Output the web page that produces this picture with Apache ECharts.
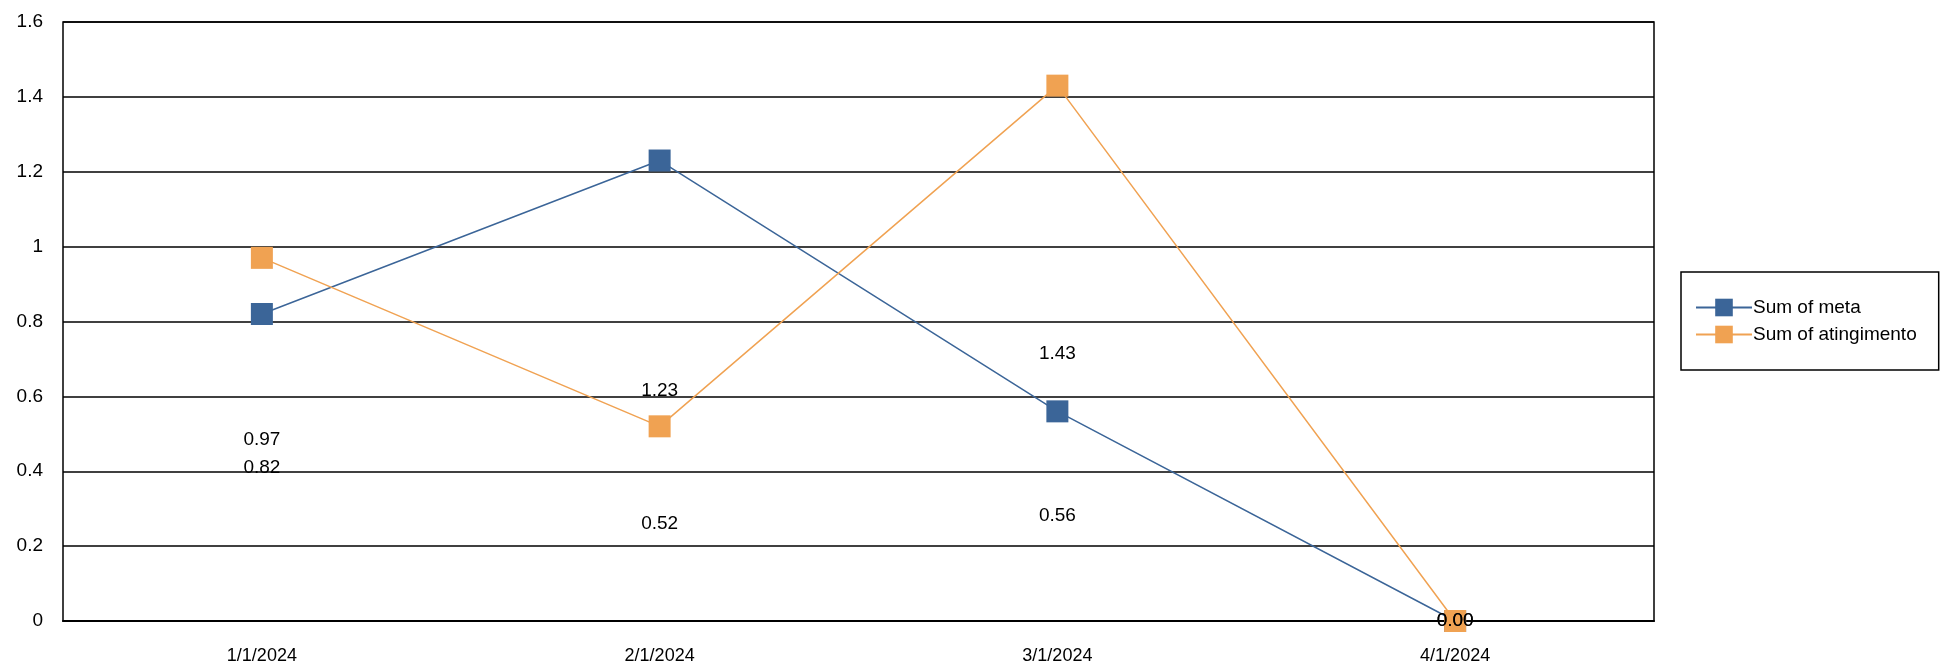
<!DOCTYPE html>
<html>
<head>
<meta charset="utf-8">
<script src="https://cdn.jsdelivr.net/npm/echarts@6/dist/echarts.min.js"></script>
<style>html,body{margin:0;padding:0;background:#fff}#main{width:1954px;height:665px}</style>
</head>
<body>
<div id="main"></div>
<script>
var categories = ["1/1/2024", "2/1/2024", "3/1/2024", "4/1/2024"];
var meta = [0.82, 1.23, 0.56, 0];
var atingimento = [0.97, 0.52, 1.43, 0];

var font = "Liberation Sans, Arial, sans-serif";
var blue = "#3b6598";
var orange = "#f0a252";

// labels sit at half the value, like the original sheet
function labelSeries(name, vals) {
    return {
        name: name + "_lbl",
        type: "scatter",
        symbolSize: 1,
        itemStyle: { opacity: 0 },
        silent: true,
        data: vals.map(function (v) { return v / 2; }),
        label: {
            show: true,
            position: "inside",
            fontFamily: font,
            fontSize: 19,
            color: "#000",
            opacity: 1,
            formatter: function (p) { return vals[p.dataIndex].toFixed(2); }
        },
        z: 5
    };
}

var myChart = echarts.init(document.getElementById("main"));
var option = {
    animation: false,
    grid: { left: 63, right: 300, top: 22, bottom: 37, show: true, borderColor: "#000", borderWidth: 1.5 },
    legend: {
        data: ["Sum of meta", "Sum of atingimento"],
        orient: "vertical",
        left: 1681, top: 272,
        padding: [26, 22, 26, 14],
        borderColor: "#000", borderWidth: 1.5,
        itemWidth: 56, itemHeight: 22, itemGap: 8,
        textStyle: { fontFamily: font, fontSize: 19, color: "#000", padding: [0, 0, 0, -4] }
    },
    xAxis: {
        type: "category",
        data: categories,
        axisLine: { lineStyle: { color: "#000", width: 2 } },
        axisTick: { show: false },
        axisLabel: { fontFamily: font, fontSize: 18, color: "#000", margin: 26 }
    },
    yAxis: {
        type: "value",
        min: 0, max: 1.6, interval: 0.2,
        axisLine: { show: false },
        splitLine: { lineStyle: { color: "#000", width: 1.5 } },
        axisLabel: { fontFamily: font, fontSize: 19, color: "#000", margin: 20 }
    },
    series: [
        {
            name: "Sum of meta", type: "line", data: meta,
            symbol: "rect", symbolSize: 22,
            itemStyle: { color: blue },
            lineStyle: { color: blue, width: 1.5 }
        },
        {
            name: "Sum of atingimento", type: "line", data: atingimento,
            symbol: "rect", symbolSize: 22,
            itemStyle: { color: orange },
            lineStyle: { color: orange, width: 1.5 }
        },
        labelSeries("meta", meta),
        labelSeries("atingimento", atingimento)
    ]
};
myChart.setOption(option);
</script>
</body>
</html>
